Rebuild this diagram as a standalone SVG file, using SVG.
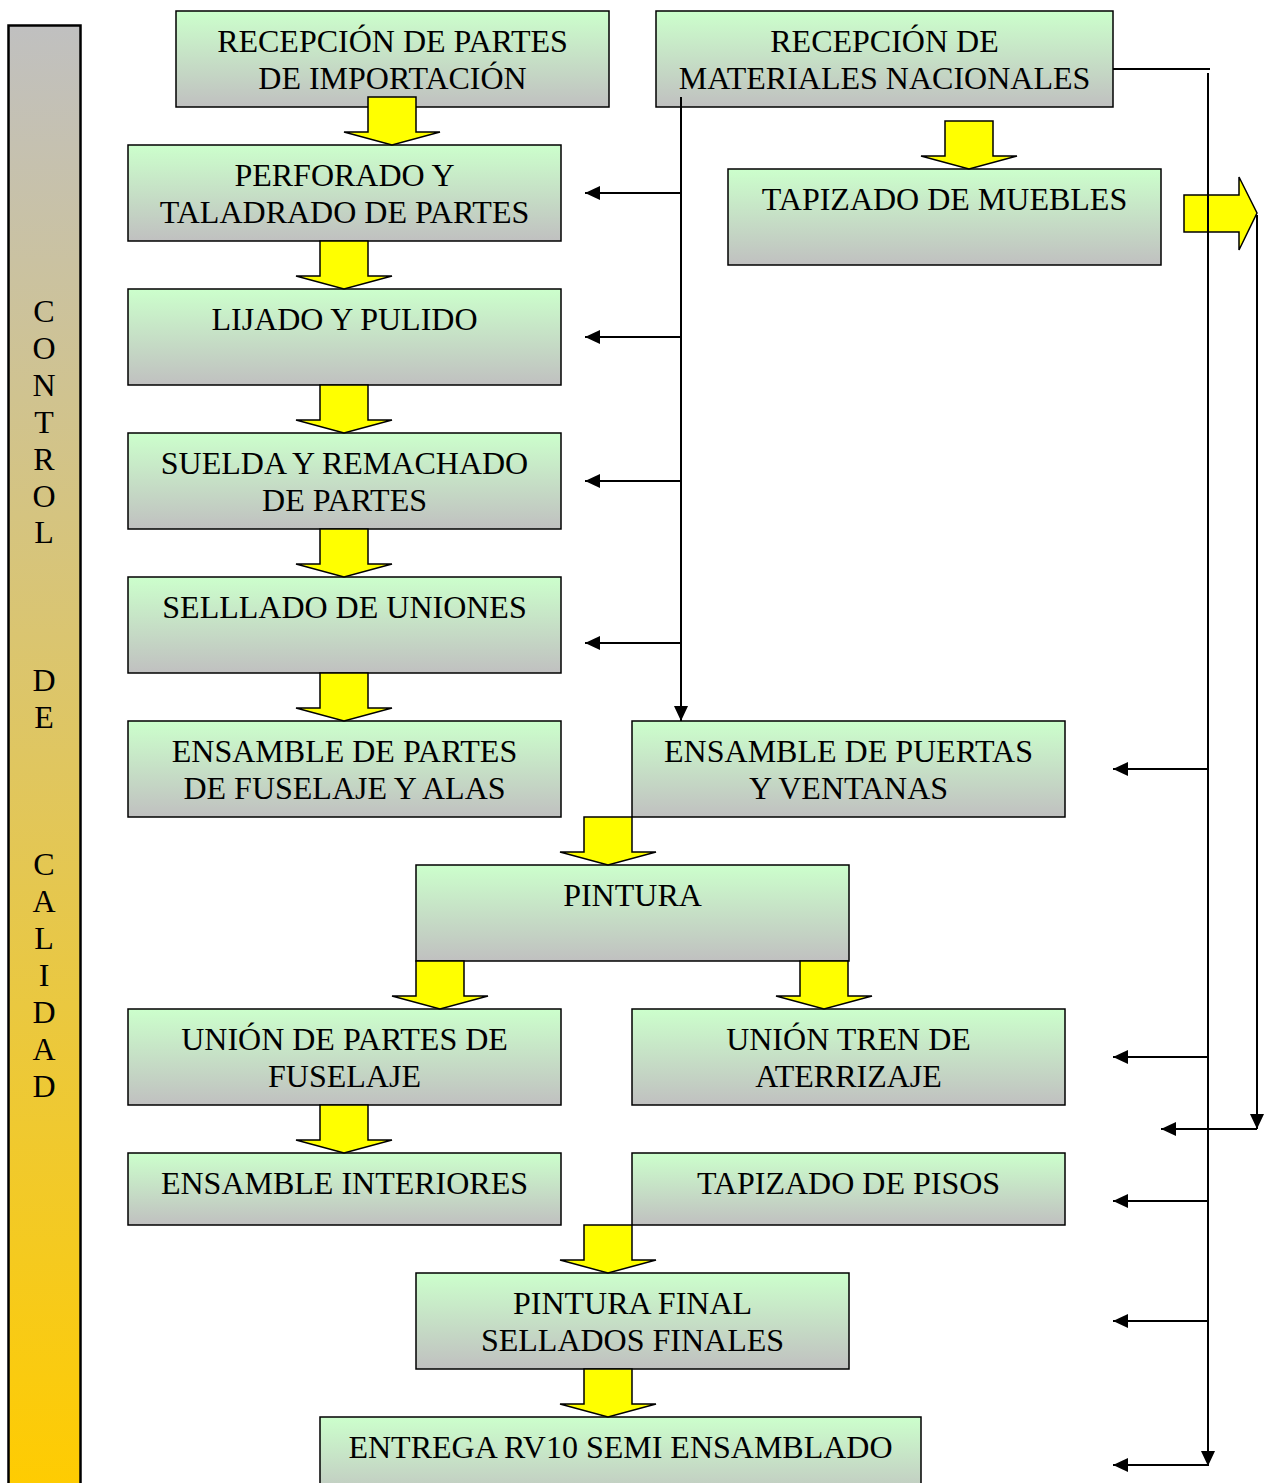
<svg xmlns="http://www.w3.org/2000/svg" width="1269" height="1483" viewBox="0 0 1269 1483">
<style>
.box{fill:url(#boxg);stroke:#000;stroke-width:1.5}
.t{font-family:"Liberation Serif","Times New Roman",serif;font-size:32px;fill:#000;text-anchor:middle}
.ya{fill:#ffff00;stroke:#000;stroke-width:1.5;stroke-linejoin:miter}
.c{fill:none;stroke:#000;stroke-width:2}
.ca{fill:none;stroke:#000;stroke-width:2;marker-end:url(#ah)}
</style>
<defs>
<linearGradient id="boxg" x1="0" y1="0" x2="0" y2="1">
<stop offset="0" stop-color="#ccffcc"/>
<stop offset="1" stop-color="#c0c0c0"/>
</linearGradient>
<linearGradient id="barg" x1="0" y1="0" x2="0" y2="1">
<stop offset="0" stop-color="#c0c0c0"/>
<stop offset="1" stop-color="#ffcc00"/>
</linearGradient>
<marker id="ah" markerUnits="userSpaceOnUse" markerWidth="16" markerHeight="14" refX="15" refY="7" orient="auto">
<path d="M0,0 L15,7 L0,14 z" fill="#000"/>
</marker>
<path id="yd" d="M-24,0 H24 V35 H48 L0,48 L-48,35 H-24 Z"/>
</defs>

<g id="control-bar">
<rect x="8.5" y="25.5" width="72" height="1470" fill="url(#barg)" stroke="#000" stroke-width="2.5"/>
<text class="t" x="44" y="322">C</text>
<text class="t" x="44" y="359">O</text>
<text class="t" x="44" y="396">N</text>
<text class="t" x="44" y="433">T</text>
<text class="t" x="44" y="470">R</text>
<text class="t" x="44" y="507">O</text>
<text class="t" x="44" y="543">L</text>
<text class="t" x="44" y="691">D</text>
<text class="t" x="44" y="728">E</text>
<text class="t" x="44" y="875">C</text>
<text class="t" x="44" y="912">A</text>
<text class="t" x="44" y="949">L</text>
<text class="t" x="44" y="986">I</text>
<text class="t" x="44" y="1023">D</text>
<text class="t" x="44" y="1060">A</text>
<text class="t" x="44" y="1097">D</text>
</g>

<g id="n1"><rect class="box" x="176" y="11" width="433" height="96"/><text class="t" x="392.5" y="52">RECEPCIÓN DE PARTES</text><text class="t" x="392.5" y="89">DE IMPORTACIÓN</text></g>
<g id="n2"><rect class="box" x="656" y="11" width="457" height="96"/><text class="t" x="884.5" y="52">RECEPCIÓN DE</text><text class="t" x="884.5" y="89">MATERIALES NACIONALES</text></g>
<g id="n3"><rect class="box" x="128" y="145" width="433" height="96"/><text class="t" x="344.5" y="186">PERFORADO Y</text><text class="t" x="344.5" y="223">TALADRADO DE PARTES</text></g>
<g id="n4"><rect class="box" x="728" y="169" width="433" height="96"/><text class="t" x="944.5" y="210">TAPIZADO DE MUEBLES</text></g>
<g id="n5"><rect class="box" x="128" y="289" width="433" height="96"/><text class="t" x="344.5" y="330">LIJADO Y PULIDO</text></g>
<g id="n6"><rect class="box" x="128" y="433" width="433" height="96"/><text class="t" x="344.5" y="474">SUELDA Y REMACHADO</text><text class="t" x="344.5" y="511">DE PARTES</text></g>
<g id="n7"><rect class="box" x="128" y="577" width="433" height="96"/><text class="t" x="344.5" y="618">SELLLADO DE UNIONES</text></g>
<g id="n8"><rect class="box" x="128" y="721" width="433" height="96"/><text class="t" x="344.5" y="762">ENSAMBLE DE PARTES</text><text class="t" x="344.5" y="799">DE FUSELAJE Y ALAS</text></g>
<g id="n9"><rect class="box" x="632" y="721" width="433" height="96"/><text class="t" x="848.5" y="762">ENSAMBLE DE PUERTAS</text><text class="t" x="848.5" y="799">Y VENTANAS</text></g>
<g id="n10"><rect class="box" x="416" y="865" width="433" height="96"/><text class="t" x="632.5" y="906">PINTURA</text></g>
<g id="n11"><rect class="box" x="128" y="1009" width="433" height="96"/><text class="t" x="344.5" y="1050">UNIÓN DE PARTES DE</text><text class="t" x="344.5" y="1087">FUSELAJE</text></g>
<g id="n12"><rect class="box" x="632" y="1009" width="433" height="96"/><text class="t" x="848.5" y="1050">UNIÓN TREN DE</text><text class="t" x="848.5" y="1087">ATERRIZAJE</text></g>
<g id="n13"><rect class="box" x="128" y="1153" width="433" height="72"/><text class="t" x="344.5" y="1194">ENSAMBLE INTERIORES</text></g>
<g id="n14"><rect class="box" x="632" y="1153" width="433" height="72"/><text class="t" x="848.5" y="1194">TAPIZADO DE PISOS</text></g>
<g id="n15"><rect class="box" x="416" y="1273" width="433" height="96"/><text class="t" x="632.5" y="1314">PINTURA FINAL</text><text class="t" x="632.5" y="1351">SELLADOS FINALES</text></g>
<g id="n16"><rect class="box" x="320" y="1417" width="601" height="90"/><text class="t" x="620.5" y="1458">ENTREGA RV10 SEMI ENSAMBLADO</text></g>

<g id="connectors">
<use href="#yd" class="ya" x="392" y="97"/>
<use href="#yd" class="ya" x="344" y="241"/>
<use href="#yd" class="ya" x="344" y="385"/>
<use href="#yd" class="ya" x="344" y="529"/>
<use href="#yd" class="ya" x="344" y="673"/>
<use href="#yd" class="ya" x="969" y="121"/>
<use href="#yd" class="ya" x="608" y="817"/>
<use href="#yd" class="ya" x="440" y="961"/>
<use href="#yd" class="ya" x="824" y="961"/>
<use href="#yd" class="ya" x="344" y="1105"/>
<use href="#yd" class="ya" x="608" y="1225"/>
<use href="#yd" class="ya" x="608" y="1369"/>
<path class="ya" d="M1184,195 H1239 V177 L1257,213 L1239,250 V232 H1184 Z"/>

<path class="ca" d="M681,97 V721"/>
<path class="ca" d="M681,193 H585"/>
<path class="ca" d="M681,337 H585"/>
<path class="ca" d="M681,481 H585"/>
<path class="ca" d="M681,643 H585"/>

<path class="c" d="M1113,69 H1210"/>
<path class="ca" d="M1208,73 V1466"/>
<path class="ca" d="M1208,769 H1113"/>
<path class="ca" d="M1208,1057 H1113"/>
<path class="ca" d="M1208,1201 H1113"/>
<path class="ca" d="M1208,1321 H1113"/>
<path class="ca" d="M1208,1465 H1113"/>

<path class="ca" d="M1257,215 V1129"/>
<path class="ca" d="M1257,1129 H1161"/>
</g>
</svg>
